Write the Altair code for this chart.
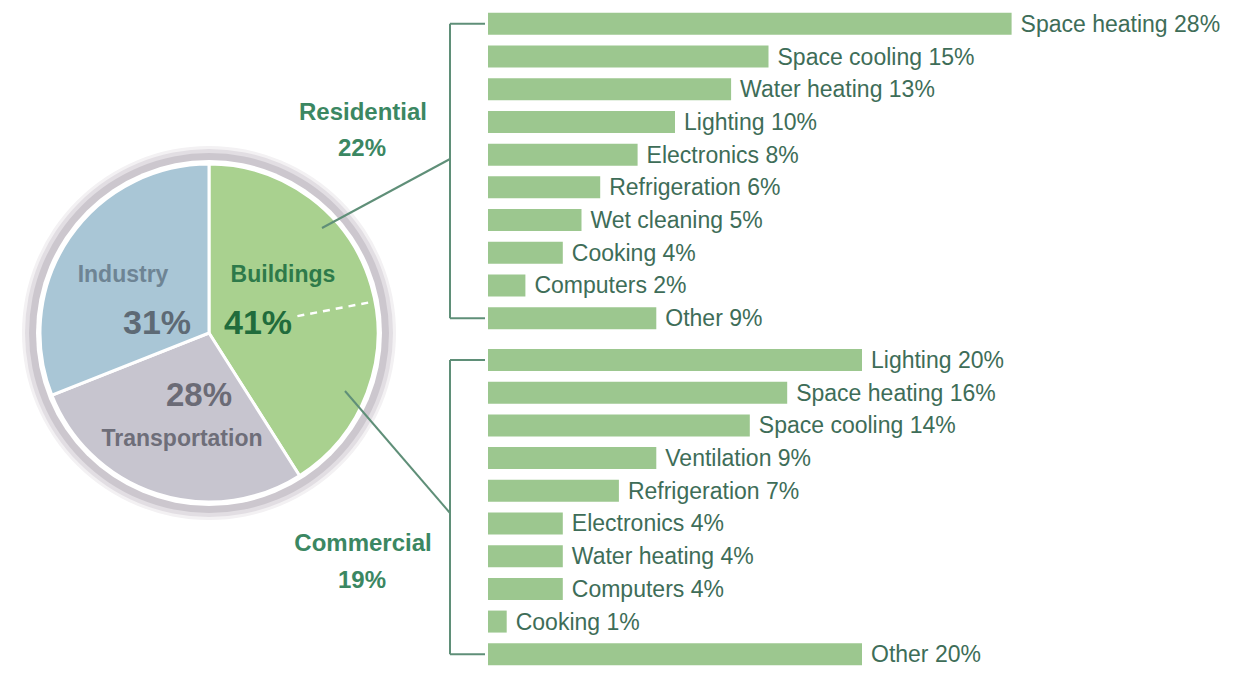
import math
import altair as alt
import pandas as pd

# ---------------- data ----------------
sectors = ["Buildings", "Transportation", "Industry"]
sector_share = [41, 28, 31]

residential_total = 22
commercial_total = 19

res_uses = ["Space heating", "Space cooling", "Water heating", "Lighting", "Electronics",
            "Refrigeration", "Wet cleaning", "Cooking", "Computers", "Other"]
res_share = [28, 15, 13, 10, 8, 6, 5, 4, 2, 9]

com_uses = ["Lighting", "Space heating", "Space cooling", "Ventilation", "Refrigeration",
            "Electronics", "Water heating", "Computers", "Cooking", "Other"]
com_share = [20, 16, 14, 9, 7, 4, 4, 4, 1, 20]

# ---------------- style / layout ----------------
FONT = "Liberation Sans, Arial, sans-serif"
W, H = 1218, 663
BAR_X0 = 480          # pixel where 0 % sits
PX_PER_PCT = 18.7
ROW0 = 11             # pixel of first row centre
ROW_PX = 33.2
GROUP_GAP = 10.28     # row offset of the commercial group

BAR_COLOR = "#9cc78f"
LABEL_COLOR = "#3e6d58"
LINE_COLOR = "#5f8f78"
GROUP_COLOR = "#3b8762"
SECTOR_COLORS = ["#a9d18f", "#c7c5cf", "#a9c6d6"]

CX, CY = 201, 325     # pie centre (pixels)
R_PIE = 169

x_scale = alt.Scale(domain=[-BAR_X0 / PX_PER_PCT, (W - BAR_X0) / PX_PER_PCT], nice=False, zero=False)
y_scale = alt.Scale(domain=[-ROW0 / ROW_PX, (H - ROW0) / ROW_PX], reverse=True, nice=False, zero=False)

rows = []
for i, (u, s) in enumerate(zip(res_uses, res_share)):
    rows.append({"use": u, "share": s, "start": 0, "row": i, "label": f"{u} {s}%"})
for i, (u, s) in enumerate(zip(com_uses, com_share)):
    rows.append({"use": u, "share": s, "start": 0, "row": i + GROUP_GAP, "label": f"{u} {s}%"})
bars_df = pd.DataFrame(rows)

bars = alt.Chart(bars_df).mark_bar(orient="horizontal", height=22, color=BAR_COLOR).encode(
    x=alt.X("start:Q", scale=x_scale, axis=None),
    x2="share:Q",
    y=alt.Y("row:Q", scale=y_scale, axis=None),
)
bar_text = alt.Chart(bars_df).mark_text(
    align="left", baseline="middle", dx=9, dy=1, font=FONT, fontSize=23, color=LABEL_COLOR
).encode(
    x=alt.X("share:Q", scale=x_scale, axis=None),
    y=alt.Y("row:Q", scale=y_scale, axis=None),
    text="label:N",
)

# brackets
n_res, n_com = len(res_uses), len(com_uses)
br_df = pd.DataFrame({"top": [0, GROUP_GAP], "bottom": [n_res - 1, GROUP_GAP + n_com - 1]})
tick_df = pd.DataFrame({"row": [0, n_res - 1, GROUP_GAP, GROUP_GAP + n_com - 1]})
BRX = 442
bracket_v = alt.Chart(br_df).mark_rule(color=LINE_COLOR, strokeWidth=2).encode(
    x=alt.value(BRX), y=alt.Y("top:Q", scale=y_scale, axis=None), y2="bottom:Q")
bracket_t = alt.Chart(tick_df).mark_rule(color=LINE_COLOR, strokeWidth=2).encode(
    x=alt.value(BRX), x2=alt.value(477), y=alt.Y("row:Q", scale=y_scale, axis=None))

# pie
pie_df = pd.DataFrame({"sector": sectors, "share": sector_share, "idx": list(range(len(sectors)))})
one = pd.DataFrame({"a": [0]})


def ring(r, color):
    return alt.Chart(one).mark_arc(radius=r, theta=0, theta2=2 * math.pi, color=color).encode(
        x=alt.value(CX), y=alt.value(CY))


rings = [ring(187, "#f3f1f3"), ring(184, "#e2dee3"), ring(180, "#ccc7ce"), ring(173, "#ffffff")]

pie = alt.Chart(pie_df).mark_arc(radius=R_PIE, stroke="white", strokeWidth=3).encode(
    theta=alt.Theta("share:Q", stack=True),
    color=alt.Color("sector:N", scale=alt.Scale(domain=sectors, range=SECTOR_COLORS), legend=None),
    order=alt.Order("idx:Q"),
    x=alt.value(CX), y=alt.value(CY),
)

# dashed split of Buildings into Residential / Commercial
ang = residential_total / sum(sector_share) * 2 * math.pi
dx, dy = math.sin(ang), -math.cos(ang)
dash = alt.Chart(one).mark_rule(color="white", strokeWidth=2.5, strokeDash=[7, 6]).encode(
    x=alt.value(CX + 90 * dx), y=alt.value(CY + 90 * dy),
    x2=alt.value(CX + (R_PIE + 2) * dx), y2=alt.value(CY + (R_PIE + 2) * dy))


# connectors
def seg(x1, y1, x2, y2):
    return alt.Chart(one).mark_rule(color=LINE_COLOR, strokeWidth=2).encode(
        x=alt.value(x1), y=alt.value(y1), x2=alt.value(x2), y2=alt.value(y2))


connectors = [seg(314, 220, BRX, 151), seg(337, 383, BRX, 505)]


def label(text, x, y, size, color, weight="bold"):
    return alt.Chart(one).mark_text(
        text=text, align="center", baseline="alphabetic", font=FONT,
        fontSize=size, fontWeight=weight, color=color
    ).encode(x=alt.value(x), y=alt.value(y))


labels = [
    label("Industry", 115, 274, 23, "#6e8494"),
    label(f"{sector_share[2]}%", 149, 326, 34, "#5e6a75"),
    label("Buildings", 275, 274, 23, "#2e7a4a"),
    label(f"{sector_share[0]}%", 250, 326, 34, "#216c3c"),
    label(f"{sector_share[1]}%", 191, 398, 33, "#6b6b76"),
    label("Transportation", 174, 438, 23, "#6e6e79"),
    label("Residential", 355, 112, 24, GROUP_COLOR),
    label(f"{residential_total}%", 354, 148, 24, GROUP_COLOR),
    label("Commercial", 355, 543, 24, GROUP_COLOR),
    label(f"{commercial_total}%", 354, 580, 24, GROUP_COLOR),
]

chart = alt.layer(
    *rings, pie, dash, *connectors, bracket_v, bracket_t, bars, bar_text, *labels
).properties(
    width=W, height=H, padding=0, autosize=alt.AutoSizeParams(type="none")
).configure_view(stroke=None)

chart.save("out.html", embed_options={"renderer": "svg", "actions": False})
